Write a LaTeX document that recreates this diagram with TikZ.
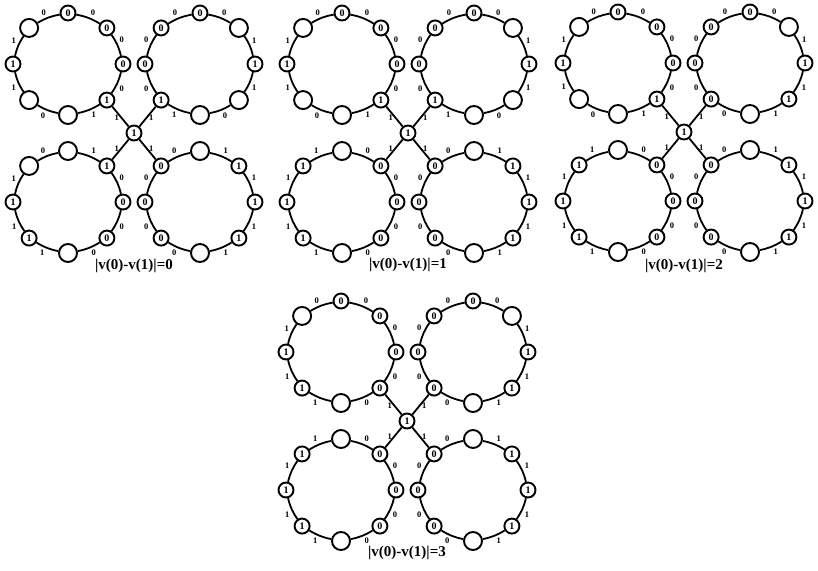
\documentclass[tikz,border=0pt]{standalone}
\usepackage{fontspec}
\setmainfont{Liberation Serif}
\usepackage{tikz}
\usetikzlibrary{calc}
\tikzset{
  vtx/.style={circle,draw,line width=1.9pt,fill=white,inner sep=0pt,
              minimum size=15pt,font=\fontsize{10}{10}\selectfont\bfseries},
  blank/.style={vtx,minimum size=18pt},
  edge/.style={line width=1.8pt},
  lab/.style={font=\fontsize{8.5}{8.5}\selectfont\bfseries,inner sep=1.5pt},
  capt/.style={font=\fontsize{15}{17}\selectfont\bfseries},
}
% #1 ring name, #2 centre, #3 vertex labels N..NW clockwise (n = empty), #4 edge labels
\newcommand{\drawring}[4]{%
  \coordinate (#1) at (#2);
  \foreach \t [count=\i] in {#3} {
    \pgfmathsetmacro\ang{90-45*(\i-1)}
    \if\t n
      \node[blank] (#1-\i) at ($(#1)+(\ang:55pt and 51pt)$) {};
    \else
      \node[vtx] (#1-\i) at ($(#1)+(\ang:55pt and 51pt)$) {\t};
    \fi
  }
  \foreach \e [count=\i] in {#4} {
    \pgfmathtruncatemacro\j{mod(\i,8)+1}
    \draw[edge] (#1-\i) to[bend left=10] node[lab,auto] {\e} (#1-\j);
  }
}
% spokes from the centre vertex #1 to its four rings
\newcommand{\drawspokes}[1]{%
  \draw[edge] (#1tl-4) -- node[lab,left,pos=0.55] {1} (#1);
  \draw[edge] (#1tr-6) -- node[lab,right,pos=0.55] {1} (#1);
  \draw[edge] (#1bl-2) -- node[lab,left,pos=0.55] {1} (#1);
  \draw[edge] (#1br-8) -- node[lab,right,pos=0.55] {1} (#1);
}

\begin{document}
\begin{tikzpicture}[x=1pt,y=1pt]
  \useasboundingbox (0,0) rectangle (818,-570);

  % |v(0)-v(1)|=0
  \node[vtx] (f0) at (134,-133) {1};
  \drawring{f0tl}{$(f0)+(-66,69)$}{0,0,0,1,n,n,1,n}{0,0,0,1,0,1,1,0}
  \drawring{f0tr}{$(f0)+(66,69)$}{0,n,1,n,n,1,0,0}{0,1,1,0,1,0,0,0}
  \drawring{f0bl}{$(f0)+(-66,-69)$}{n,1,0,0,n,1,1,n}{1,0,0,0,1,1,1,0}
  \drawring{f0br}{$(f0)+(66,-69)$}{n,1,1,1,n,0,0,0}{1,1,1,1,0,0,0,0}
  \drawspokes{f0}
  \node[capt] (c0) at ($(f0)+(0,-133)$) {|v(0)-v(1)|=0};

  % |v(0)-v(1)|=1
  \node[vtx] (f1) at (408,-133) {1};
  \drawring{f1tl}{$(f1)+(-66,69)$}{0,0,0,1,n,n,1,n}{0,0,0,1,0,1,1,0}
  \drawring{f1tr}{$(f1)+(66,69)$}{0,n,1,n,n,1,0,0}{0,1,1,0,1,0,0,0}
  \drawring{f1bl}{$(f1)+(-66,-69)$}{n,0,0,0,n,1,1,1}{0,0,0,0,1,1,1,1}
  \drawring{f1br}{$(f1)+(66,-69)$}{n,1,1,1,n,0,0,0}{1,1,1,1,0,0,0,0}
  \drawspokes{f1}
  \node[capt] (c1) at ($(f1)+(0,-132)$) {|v(0)-v(1)|=1};

  % |v(0)-v(1)|=2
  \node[vtx] (f2) at (684,-132) {1};
  \drawring{f2tl}{$(f2)+(-66,69)$}{0,0,0,1,n,n,1,n}{0,0,0,1,0,1,1,0}
  \drawring{f2tr}{$(f2)+(66,69)$}{0,n,1,1,n,0,0,0}{0,1,1,1,0,0,0,0}
  \drawring{f2bl}{$(f2)+(-66,-69)$}{n,0,0,0,n,1,1,1}{0,0,0,0,1,1,1,1}
  \drawring{f2br}{$(f2)+(66,-69)$}{n,1,1,1,n,0,0,0}{1,1,1,1,0,0,0,0}
  \drawspokes{f2}
  \node[capt] (c2) at ($(f2)+(0,-134)$) {|v(0)-v(1)|=2};

  % |v(0)-v(1)|=3
  \node[vtx] (f3) at (407,-421) {1};
  \drawring{f3tl}{$(f3)+(-66,69)$}{0,0,0,0,n,1,1,n}{0,0,0,0,1,1,1,0}
  \drawring{f3tr}{$(f3)+(66,69)$}{0,n,1,1,n,0,0,0}{0,1,1,1,0,0,0,0}
  \drawring{f3bl}{$(f3)+(-66,-69)$}{n,0,0,0,n,1,1,1}{0,0,0,0,1,1,1,1}
  \drawring{f3br}{$(f3)+(66,-69)$}{n,1,1,1,n,0,0,0}{1,1,1,1,0,0,0,0}
  \drawspokes{f3}
  \node[capt] (c3) at ($(f3)+(0,-132)$) {|v(0)-v(1)|=3};
\end{tikzpicture}
\end{document}
